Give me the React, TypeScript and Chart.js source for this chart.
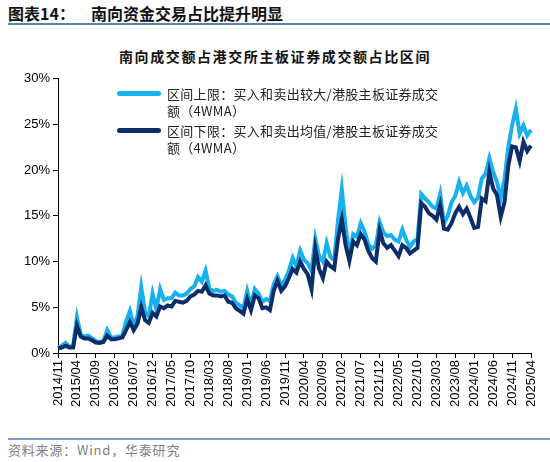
import React, { useEffect, useRef } from "react";
import { Chart, registerables } from "chart.js";

Chart.register(...registerables);

// Monthly readings (%), starting 2014/11
const START_YEAR = 2014;
const START_MONTH = 11;

const upperBound = [
  0.6, 0.8, 1.1, 0.7, 0.8, 3.9, 2.0, 1.8, 1.9, 1.6,
  1.3, 1.2, 1.3, 2.5, 1.7, 1.7, 1.8, 1.9, 3.5, 4.6,
  3.0, 4.0, 7.2, 4.5, 4.0, 6.5, 4.8, 7.0, 5.8, 6.0,
  6.0, 6.6, 6.3, 6.3, 6.5, 7.0, 7.3, 8.3, 7.8, 9.0,
  7.0, 6.8, 6.9, 6.7, 6.8, 6.4, 6.2, 5.5, 5.2, 4.9,
  6.8, 5.2, 7.0, 6.5, 5.6, 5.9, 5.7, 7.5, 8.4, 7.4,
  8.0, 9.0, 10.4, 9.5, 11.2, 10.2, 9.8, 9.0, 12.5, 10.6,
  10.0, 12.0, 10.5, 10.2, 14.5, 17.9, 13.8, 10.6, 13.0, 12.7,
  14.2, 13.3, 11.9, 11.4, 11.8, 14.3, 13.2, 12.8, 12.9, 12.4,
  12.2, 13.5, 12.4, 11.6, 12.2, 12.5, 17.4, 16.9, 16.5, 16.0,
  15.8, 17.4, 14.2, 15.0, 16.5, 17.2, 18.7, 17.5, 18.3, 17.2,
  16.5, 17.0, 19.1, 19.6, 21.3, 19.8, 18.7, 17.0, 19.0, 22.5,
  24.9, 26.7, 24.0, 24.9, 23.8, 24.4,
];

const lowerBound = [
  0.5, 0.6, 0.8, 0.6, 0.6, 3.0, 1.8, 1.6, 1.6, 1.4,
  1.15, 1.1, 1.2, 1.9, 1.5, 1.5, 1.6, 1.7, 2.5, 3.4,
  2.5, 3.2, 5.0, 3.6, 3.3, 4.4, 4.0, 5.1, 4.9, 5.2,
  5.1, 5.7, 5.6, 5.5, 5.7, 6.2, 6.4, 6.8, 6.7, 7.4,
  6.5, 6.3, 6.3, 6.2, 6.3, 5.6, 5.5, 4.9, 4.6, 4.3,
  5.9, 4.7, 6.3, 6.0, 4.9, 5.0, 4.7, 6.8, 7.9, 6.8,
  7.3, 8.2, 9.2, 8.8, 10.0, 9.2, 8.6, 7.0, 11.4, 9.2,
  8.2, 10.0, 9.5, 9.2, 12.5, 14.6, 11.8, 10.1, 12.2, 11.8,
  13.0, 12.4, 11.2, 10.4, 10.0, 13.4, 12.0, 11.5, 11.8, 11.2,
  10.6, 11.8, 11.5, 10.9, 11.2, 11.5, 16.4, 16.0, 15.3, 15.0,
  14.6, 16.2, 13.6, 13.5, 14.2, 15.3, 16.0, 15.2, 15.8, 14.8,
  13.7, 13.8, 16.9, 16.6, 19.8, 18.0, 17.3, 14.9, 16.5, 20.5,
  22.6, 22.5, 21.0, 23.1, 22.1, 22.7,
];

const months: string[] = upperBound.map((_, i) => {
  const t = START_MONTH - 1 + i;
  const y = START_YEAR + Math.floor(t / 12);
  const m = (t % 12) + 1;
  return `${y}/${String(m).padStart(2, "0")}`;
});

const LABEL_EVERY = 5;
const yTicks = [0, 5, 10, 15, 20, 25, 30];

const seriesNames = [
  ["区间上限：买入和卖出较大/港股主板证券成交", "额（4WMA）"],
  ["区间下限：买入和卖出均值/港股主板证券成交", "额（4WMA）"],
];

const LIGHT = "#16b1ee";
const DARK = "#0b2e6b";

const CANVAS_TOP = 68;
const CANVAS_W = 550;
const CANVAS_H = 347;

export default function App() {
  const ref = useRef<HTMLCanvasElement | null>(null);

  useEffect(() => {
    if (!ref.current) return;
    const axisFont = { family: "'Liberation Sans', Arial, sans-serif", size: 13 };
    const chart = new Chart(ref.current, {
      type: "line",
      data: {
        labels: months,
        datasets: [
          {
            label: seriesNames[1].join(""),
            data: lowerBound,
            borderColor: DARK,
            backgroundColor: DARK,
            borderWidth: 4,
            pointRadius: 0,
            tension: 0,
            order: 0,
          },
          {
            label: seriesNames[0].join(""),
            data: upperBound,
            borderColor: LIGHT,
            backgroundColor: LIGHT,
            borderWidth: 4,
            pointRadius: 0,
            tension: 0,
            order: 1,
          },
        ],
      },
      options: {
        animation: false,
        responsive: false,
        maintainAspectRatio: false,
        layout: { padding: { top: 8, right: 19, left: 0, bottom: 0 } },
        plugins: {
          legend: { display: false },
          tooltip: { enabled: false },
          title: { display: false },
        },
        scales: {
          x: {
            type: "category",
            offset: false,
            border: { display: true, color: "#000", width: 1 },
            grid: {
              display: true,
              drawOnChartArea: false,
              drawTicks: true,
              tickLength: 5,
              color: "#000",
              tickColor: "#000",
            },
            ticks: {
              autoSkip: false,
              maxRotation: 90,
              minRotation: 90,
              padding: 2,
              color: "#000",
              font: axisFont,
              callback: (_v: any, i: number) => (i % LABEL_EVERY === 0 ? months[i] : null),
            },
            afterFit: (s: any) => {
              s.height = 62;
            },
          },
          y: {
            min: 0,
            max: 30,
            border: { display: true, color: "#000", width: 1 },
            grid: {
              display: true,
              drawOnChartArea: false,
              drawTicks: true,
              tickLength: 5,
              color: "#000",
              tickColor: "#000",
            },
            ticks: {
              stepSize: 5,
              padding: 3,
              color: "#000",
              font: axisFont,
              callback: (v: any) => `${v}%`,
            },
            afterBuildTicks: (s: any) => {
              s.ticks = yTicks.map((v) => ({ value: v }));
            },
            afterFit: (s: any) => {
              s.width = 58;
            },
          },
        },
      },
    } as any);
    return () => chart.destroy();
  }, []);

  const cjk = "'Noto Sans CJK SC', 'Noto Sans', sans-serif";

  return (
    <div
      style={{
        position: "fixed",
        left: 0,
        top: 0,
        width: 550,
        height: 462,
        background: "#fff",
        overflow: "hidden",
        fontFamily: cjk,
      }}
    >
      <div
        style={{
          position: "absolute",
          left: 8,
          top: 2,
          fontSize: 16,
          fontWeight: 700,
          color: "#111",
          lineHeight: "22px",
          whiteSpace: "nowrap",
        }}
      >
        图表14：<span style={{ display: "inline-block", width: 16 }} />南向资金交易占比提升明显
      </div>
      <div style={{ position: "absolute", left: 8, right: 0, top: 23, height: 2, background: "#5a83bd" }} />

      <div
        style={{
          position: "absolute",
          left: 0,
          width: 550,
          top: 46,
          textAlign: "center",
          fontSize: 14,
          fontWeight: 700,
          letterSpacing: 1.6,
          color: "#111",
          lineHeight: "20px",
        }}
      >
        南向成交额占港交所主板证券成交额占比区间
      </div>

      <canvas
        ref={ref}
        width={CANVAS_W}
        height={CANVAS_H}
        style={{ position: "absolute", left: 0, top: CANVAS_TOP, width: CANVAS_W, height: CANVAS_H }}
      />

      {seriesNames.map((lines, k) => (
        <div key={k} style={{ position: "absolute", left: 117, top: 84.5 + k * 37 }}>
          <div
            style={{
              position: "absolute",
              left: 0,
              top: 6,
              width: 44,
              height: 5,
              borderRadius: 2.5,
              background: k === 0 ? LIGHT : DARK,
            }}
          />
          <div
            style={{
              position: "absolute",
              left: 50,
              top: 0,
              fontSize: 13,
              lineHeight: "17px",
              color: "#222",
              whiteSpace: "nowrap",
              letterSpacing: 0.3,
            }}
          >
            {lines[0]}
            <br />
            {lines[1]}
          </div>
        </div>
      ))}

      <div style={{ position: "absolute", left: 8, right: 0, top: 438, height: 2, background: "#7f9cc6" }} />
      <div
        style={{
          position: "absolute",
          left: 8,
          top: 441,
          fontSize: 13,
          lineHeight: "18px",
          color: "#808080",
          letterSpacing: 0.8,
          whiteSpace: "nowrap",
        }}
      >
        资料来源：Wind，华泰研究
      </div>
    </div>
  );
}
